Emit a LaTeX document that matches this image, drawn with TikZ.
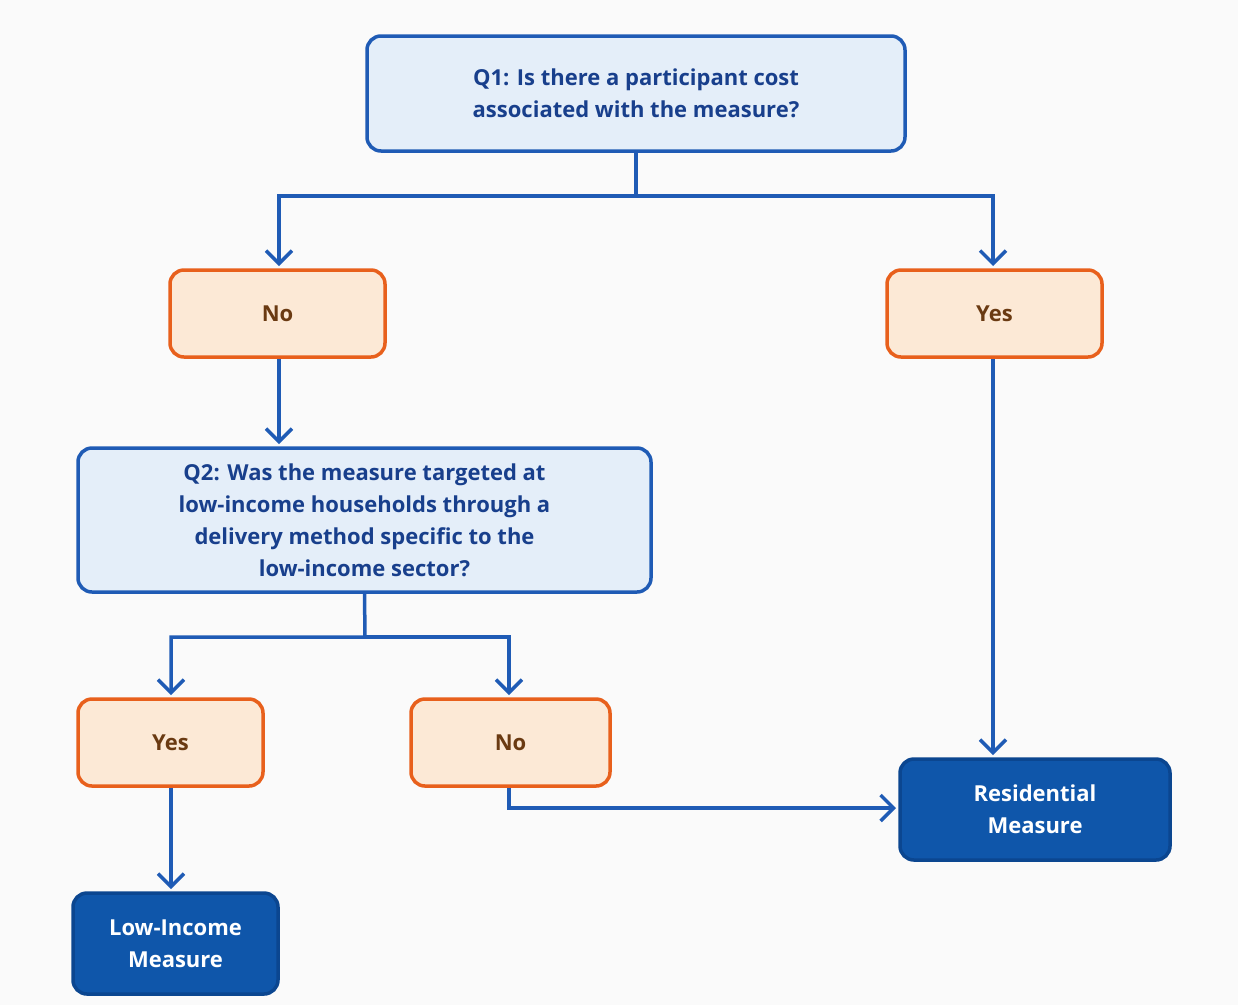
\documentclass[tikz,border=0pt]{standalone}
\usepackage{fontspec}
\setmainfont{Open Sans}
\usetikzlibrary{arrows.meta}
\definecolor{qfill}{HTML}{E4EEF9}
\definecolor{qdraw}{HTML}{1F5BB5}
\definecolor{qtext}{HTML}{183F8C}
\definecolor{afill}{HTML}{FCE9D6}
\definecolor{adraw}{HTML}{E8601C}
\definecolor{atext}{HTML}{6A3A12}
\definecolor{rfill}{HTML}{0F56AA}
\definecolor{rdraw}{HTML}{0B4690}
\definecolor{bg}{HTML}{FAFAFA}
\begin{document}
\begin{tikzpicture}[x=1pt,y=-1pt,
  box/.style={rounded corners=14pt, line width=3.5pt, align=center, inner sep=0pt, font=\fontsize{22}{32}\selectfont\bfseries},
  qbox/.style={box, fill=qfill, draw=qdraw, text=qtext},
  abox/.style={box, fill=afill, draw=adraw, text=atext},
  rbox/.style={box, fill=rfill, draw=rdraw, text=white},
  conn/.style={draw=qdraw, line width=3.5pt, -{Straight Barb[length=13pt,width=26pt,line width=3.5pt]}}]
\fill[bg] (0,0) rectangle (1238,1005);
\useasboundingbox (0,0) rectangle (1238,1005);
\node[qbox, minimum width=538pt, minimum height=115pt] (q1) at (636,93.5) {Q1: Is there a participant cost\\associated with the measure?};
\node[abox, minimum width=215pt, minimum height=87pt] (no1) at (277.5,313.5) {No};
\node[abox, minimum width=215pt, minimum height=87pt] (yes1) at (994.5,313.5) {Yes};
\node[qbox, minimum width=573pt, minimum height=144pt] (q2) at (364.5,520) {Q2: Was the measure targeted at\\low-income households through a\\delivery method specific to the\\low-income sector?};
\node[abox, minimum width=185pt, minimum height=87pt] (yes2) at (170.5,742.5) {Yes};
\node[abox, minimum width=199pt, minimum height=87pt] (no2) at (510.5,742.5) {No};
\node[rbox, minimum width=270pt, minimum height=101pt] (res) at (1035,809.5) {Residential\\Measure};
\node[rbox, minimum width=205pt, minimum height=101pt] (low) at (175.5,943.5) {Low-Income\\Measure};
\coordinate (j1) at (636,196);
\coordinate (j2) at (365,637);
\coordinate (t1) at (279,266);
\coordinate (t2) at (993,266);
\coordinate (t3) at (279,444);
\coordinate (t4) at (171,695);
\coordinate (t5) at (509,695);
\coordinate (t6) at (993,755);
\coordinate (t7) at (171,889);
\coordinate (t8) at (896,808);
\draw[conn] (q1.south) -- (j1) -| (t1);
\draw[conn] (j1) -| (t2);
\draw[conn] (no1.south -| t3) -- (t3);
\draw[conn] (q2.south) -- (j2) -| (t4);
\draw[conn] (j2) -| (t5);
\draw[conn] (yes1.south -| t6) -- (t6);
\draw[conn] (yes2.south -| t7) -- (t7);
\draw[conn] (no2.south -| t5) |- (t8);
\end{tikzpicture}
\end{document}
